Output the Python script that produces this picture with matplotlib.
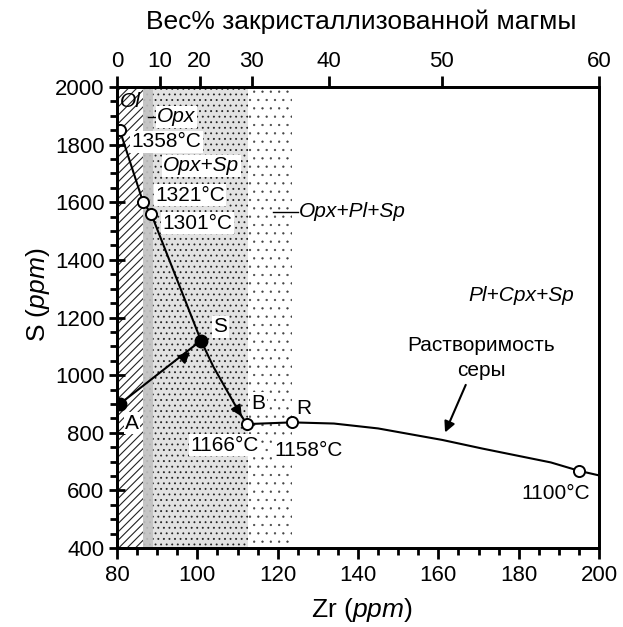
import matplotlib
matplotlib.use("Agg")
import matplotlib.pyplot as plt
from matplotlib.ticker import MultipleLocator

plt.rcParams['font.family'] = ['Liberation Sans', 'DejaVu Sans']
plt.rcParams['mathtext.fontset'] = 'custom'
plt.rcParams['mathtext.rm'] = 'Liberation Sans'
plt.rcParams['mathtext.it'] = 'Liberation Sans:italic'

# ---- data ----
liq_zr = [80.7, 86.5, 88.5, 100.9, 104.0, 107.3, 110.6, 112.3]
liq_s = [1850, 1600, 1560, 1120, 1029, 948, 867, 830]
sol_zr = [112.3, 123.5, 134, 145, 161, 171, 188, 195, 200]
sol_s = [830, 836, 832, 815, 775, 745, 697, 668, 652]
open_zr = [80.7, 86.5, 88.5, 112.3, 123.5, 195]
open_s = [1850, 1600, 1560, 830, 836, 668]
open_labels = ['1358°C', '1321°C', '1301°C', '1166°C', '1158°C', '1100°C']
filled_zr = [80.7, 100.9]
filled_s = [900, 1120]
point_names = ['A', 'S', 'B', 'R']
field_bounds = [80, 86.5, 89.0, 112.6, 123.5]
top_pct = [0, 10, 20, 30, 40, 50, 60]
top_zr = [80, 90.7, 100.6, 113.5, 132.7, 160.8, 200]

fig = plt.figure(figsize=(6.23, 6.27), dpi=100)
ax = fig.add_axes([117/623, 1-548/627, 482/623, 461/627])
ax.set_xlim(80, 200)
ax.set_ylim(400, 2000)

# ---- fields ----
plt.rcParams['hatch.linewidth'] = 0.6
ax.axvspan(field_bounds[0], field_bounds[3], facecolor='#e2e2e2', edgecolor='#222222',
           hatch='...', lw=0, zorder=0)
plt.rcParams['hatch.linewidth'] = 0.4
ax.axvspan(field_bounds[3], field_bounds[4], facecolor='white', edgecolor='#444444',
           hatch='..', lw=0, zorder=0)
plt.rcParams['hatch.linewidth'] = 0.8
ax.axvspan(field_bounds[0], field_bounds[1], facecolor='white', edgecolor='#222222',
           hatch='////', lw=0, zorder=0.5)
ax.axvspan(field_bounds[1], field_bounds[2], facecolor='#c2c2c2', edgecolor='none',
           lw=0, zorder=0.6, alpha=0.9)

# ---- lines ----
ax.plot(liq_zr, liq_s, color='black', lw=1.5, zorder=3)
ax.plot(sol_zr, sol_s, color='black', lw=1.5, zorder=3)
ax.plot(filled_zr, filled_s, color='black', lw=1.5, zorder=3)

# arrowheads
ax.annotate('', xy=(98.7, 1087), xytext=(96.0, 1053),
            arrowprops=dict(arrowstyle='-|>', color='black', lw=1.5, mutation_scale=16),
            zorder=4)
ax.annotate('', xy=(111.4, 848), xytext=(110.0, 880),
            arrowprops=dict(arrowstyle='-|>', color='black', lw=1.5, mutation_scale=16),
            zorder=4)

# markers
ax.plot(open_zr, open_s, 'o', ms=8, mfc='white', mec='black', mew=1.4, zorder=5)
ax.plot(filled_zr, filled_s, 'o', ms=9, mfc='black', mec='black', zorder=5)

# ---- labels ----
fs = 15
wb = dict(facecolor='white', edgecolor='none', pad=1.0)
label_pos = [(83.7, 1810), (89.5, 1625), (91.4, 1527), (98.2, 757), (119.3, 740), (180.7, 590)]
for (x, y), t in zip(label_pos, open_labels):
    ax.text(x, y, t, fontsize=fs, ha='left', va='center', bbox=wb, zorder=4)

name_pos = [(82.0, 833), (104.0, 1168), (113.5, 902), (124.7, 884)]
for (x, y), t in zip(name_pos, point_names):
    ax.text(x, y, t, fontsize=fs, ha='left', va='center', bbox=wb, zorder=4)

ax.text(80.75, 1950, 'Ol', fontsize=fs, style='italic', ha='left', va='center', zorder=4)
ax.plot([87.7, 89.9], [1895, 1895], color='black', lw=1.0, zorder=4)
ax.text(90.0, 1897, 'Opx', fontsize=fs, style='italic', ha='left', va='center',
        bbox=wb, zorder=4)
ax.text(91.5, 1726, 'Opx+Sp', fontsize=fs, style='italic', ha='left', va='center',
        bbox=wb, zorder=4)
ax.plot([118.8, 125.0], [1567, 1567], color='black', lw=1.0, zorder=4)
ax.text(125.3, 1567, 'Opx+Pl+Sp', fontsize=fs, style='italic', ha='left', va='center', zorder=4)
ax.text(167.4, 1278, 'Pl+Cpx+Sp', fontsize=fs, style='italic', ha='left', va='center', zorder=4)
ax.text(170.7, 1104, 'Растворимость', fontsize=fs, ha='center', va='center', zorder=4)
ax.text(170.7, 1017, 'серы', fontsize=fs, ha='center', va='center', zorder=4)
ax.annotate('', xy=(161.4, 792), xytext=(167.1, 975),
            arrowprops=dict(arrowstyle='-|>', color='black', lw=1.5, mutation_scale=16),
            zorder=4)

# ---- axes styling ----
for sp in ax.spines.values():
    sp.set_linewidth(2)
ax.xaxis.set_major_locator(MultipleLocator(20))
ax.xaxis.set_minor_locator(MultipleLocator(5))
ax.yaxis.set_major_locator(MultipleLocator(200))
ax.yaxis.set_minor_locator(MultipleLocator(50))
ax.tick_params(axis='x', which='major', direction='out', length=8, width=2, labelsize=16, pad=4)
ax.tick_params(axis='x', which='minor', direction='out', length=5, width=2)
ax.tick_params(axis='y', which='major', direction='inout', length=12, width=2, labelsize=16, pad=3)
ax.tick_params(axis='y', which='minor', direction='out', length=5, width=2)
ax.tick_params(top=False, right=False, which='both')

ax.set_xlabel('Zr ($\\mathit{ppm}$)', fontsize=19)
ax.set_ylabel('S ($\\mathit{ppm}$)', fontsize=19)
ax.xaxis.set_label_coords(0.508, -0.104)
ax.yaxis.set_label_coords(-0.135, 0.549)

ax2 = ax.twiny()
ax2.set_xlim(ax.get_xlim())
ax2.set_xticks(top_zr)
ax2.set_xticklabels([str(v) for v in top_pct])
ax2.tick_params(axis='x', direction='out', length=8, width=2, labelsize=16, pad=3)
for sp in ax2.spines.values():
    sp.set_linewidth(2)
ax2.set_xlabel('Вес% закристаллизованной магмы', fontsize=19)
ax2.xaxis.set_label_coords(0.506, 1.125)

fig.savefig('out.png', dpi=100, facecolor='white')
